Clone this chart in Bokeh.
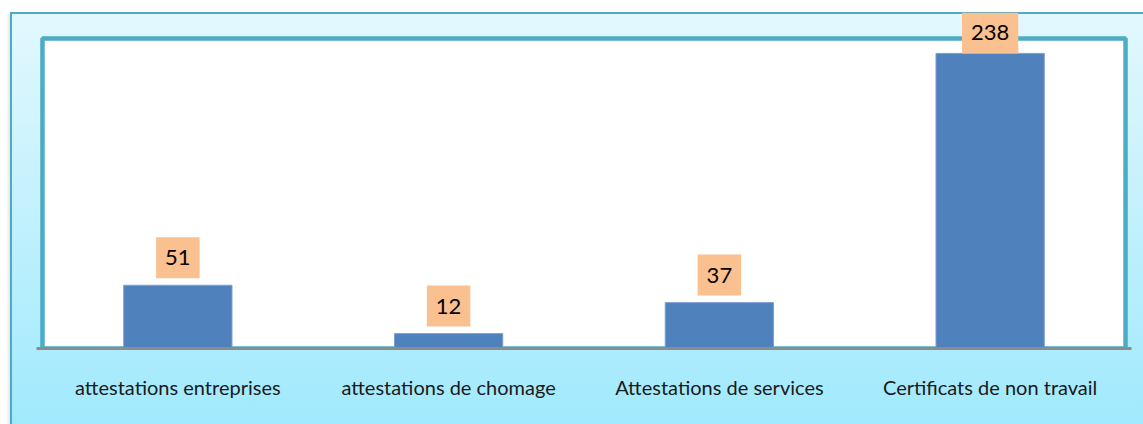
from bokeh.plotting import figure
from bokeh.models import ColumnDataSource, Label, BoxAnnotation, FactorRange
from bokeh.embed import file_html
from bokeh.resources import INLINE

categories = ["attestations entreprises", "attestations de chomage",
              "Attestations de services", "Certificats de non travail"]
counts = [51, 12, 37, 238]

W, H = 1143, 424
AREA_MAX = 250          # value at the top of the white plot area
AREA_H = 310            # pixel height of the white plot area
FRAME_H = 336           # frame extends above the plot area (room for labels)
Y_END = AREA_MAX * FRAME_H / AREA_H
PAD_PX = 3
STEP_PX = 1089 / len(categories)

x_range = FactorRange(factors=categories, range_padding=2 * PAD_PX / STEP_PX,
                      range_padding_units="absolute")
p = figure(x_range=x_range, y_range=(0, Y_END), width=W, height=H,
           output_backend="svg", toolbar_location=None, y_axis_location=None,
           min_border_left=36, min_border_right=12, min_border_top=12,
           min_border_bottom=76)

# chart-area gradient background (behind a transparent canvas)
p.styles = {
    "background": (
        "linear-gradient(to right, rgba(0,0,0,0), rgba(0,0,0,0.10)) 6px 14px / 4px 420px no-repeat, "
        "linear-gradient(#E2F8FE, #9FE9FD) 12px 14px / 1140px 420px no-repeat, "
        "linear-gradient(#4BACC6, #4BACC6) 10px 12px / 1140px 420px no-repeat, "
        "#ffffff"
    )
}
p.background_fill_alpha = 0
p.border_fill_alpha = 0
p.outline_line_color = None
p.xgrid.grid_line_color = None
p.ygrid.grid_line_color = None

# white plot area with teal border
p.add_layout(BoxAnnotation(left=0, right=len(categories), bottom=0, top=AREA_MAX,
                           fill_color="white", fill_alpha=1,
                           line_color="#4BACC6", line_alpha=1, line_width=4.5,
                           level="underlay"))

src = ColumnDataSource(dict(x=categories, y=counts))
p.vbar(x="x", top="y", width=0.4, source=src, fill_color="#4F81BD",
       line_color="#7F9FD2", line_width=1)

# value labels: float above bar unless they would leave the chart area
for i, (cat, v) in enumerate(zip(categories, counts)):
    px = v / AREA_MAX * AREA_H
    off = 7 if px + 7 + 40 < AREA_H + 25 else 0
    p.add_layout(Label(x=i + 0.5, y=v, text=str(v), y_offset=off,
                       text_align="center", text_baseline="bottom",
                       text_font="Lato", text_font_size="22px",
                       text_color="black", background_fill_color="#FAC090",
                       background_fill_alpha=1, padding=(9, 13)))

ax = p.xaxis[0]
ax.axis_line_color = "#8C8C8C"
ax.axis_line_width = 3
ax.major_tick_line_color = None
ax.minor_tick_line_color = None
ax.major_label_text_font = "Lato"
ax.major_label_text_font_size = "20px"
ax.major_label_text_color = "#1a1a1a"
ax.major_label_standoff = 20

open("out.html", "w").write(file_html(p, INLINE))
